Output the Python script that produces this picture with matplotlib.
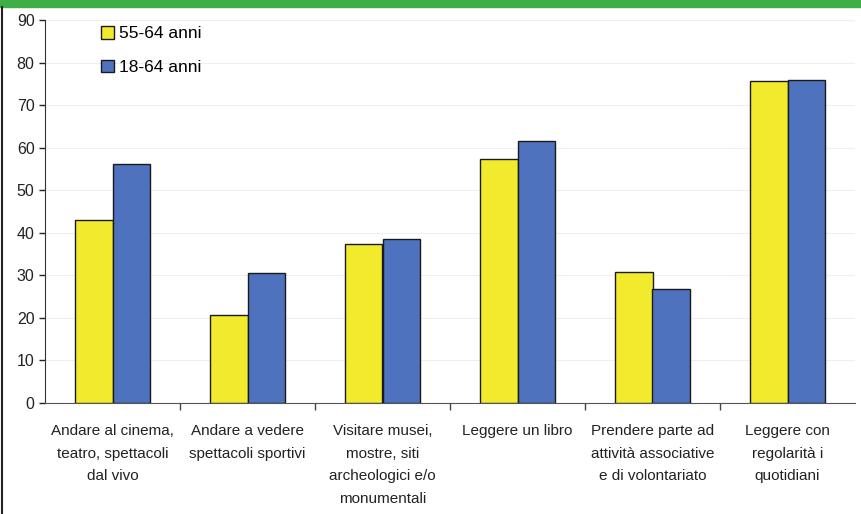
import matplotlib.pyplot as plt
import numpy as np

categories = [
    'Andare al cinema,\nteatro, spettacoli\ndal vivo',
    'Andare a vedere\nspettacoli sportivi',
    'Visitare musei,\nmostre, siti\narcheologici e/o\nmonumentali',
    'Leggere un libro',
    'Prendere parte ad\nattività associative\ne di volontariato',
    'Leggere con\nregolarità i\nquotidiani',
]
age_55_64 = [43.0, 20.7, 37.4, 57.3, 30.8, 75.7]
age_18_64 = [56.2, 30.6, 38.5, 61.5, 26.8, 76.0]
series_names = ['55-64 anni', '18-64 anni']
yticks = list(range(0, 100, 10))

plt.rcParams['font.family'] = ['Liberation Sans', 'DejaVu Sans']

fig = plt.figure(figsize=(8.61, 5.14), dpi=100)
ax = fig.add_axes([45 / 861, 111 / 514, 810 / 861, 383 / 514])

x = np.arange(len(categories))
w = 0.28
ax.bar(x - w / 2, age_55_64, w, color='#f2ea2c', edgecolor='#1a1a1a',
       linewidth=1, label=series_names[0], zorder=3)
ax.bar(x + w / 2, age_18_64, w, color='#4e72bd', edgecolor='#1a1a1a',
       linewidth=1, label=series_names[1], zorder=3)

ax.set_xlim(-0.5, len(categories) - 0.5)
ax.set_ylim(0, 90)
ax.set_yticks(yticks)
ax.tick_params(axis='y', labelsize=11.5, length=4, width=1, colors='#222222')
ax.grid(axis='y', color='#efefef', linewidth=0.8, zorder=0)

ax.set_xticks(x)
ax.set_xticklabels(categories, fontsize=11, color='#222222', linespacing=1.8)
ax.tick_params(axis='x', length=0, pad=15)
ax.set_xticks(np.arange(0.5, len(categories) - 0.5), minor=True)
ax.tick_params(axis='x', which='minor', length=5, width=1, color='#444444')

for side in ['top', 'right']:
    ax.spines[side].set_visible(False)
ax.spines['left'].set_color('#333333')
ax.spines['bottom'].set_color('#555555')

ax.legend(loc='upper left', bbox_to_anchor=(0.05, 1.025), frameon=False,
          fontsize=12.5, handlelength=0.75, handleheight=0.75,
          handletextpad=0.3, labelspacing=1.05)

# green band and left border of the original panel
fig.patches.append(plt.Rectangle((0, 1 - 7 / 514), 1, 7 / 514,
                                 transform=fig.transFigure, color='#3fae49'))
fig.add_artist(plt.Line2D([2 / 861, 2 / 861], [0, 1 - 7 / 514],
                          transform=fig.transFigure, color='#222222', lw=1.5))

fig.savefig('out.png', dpi=100)
